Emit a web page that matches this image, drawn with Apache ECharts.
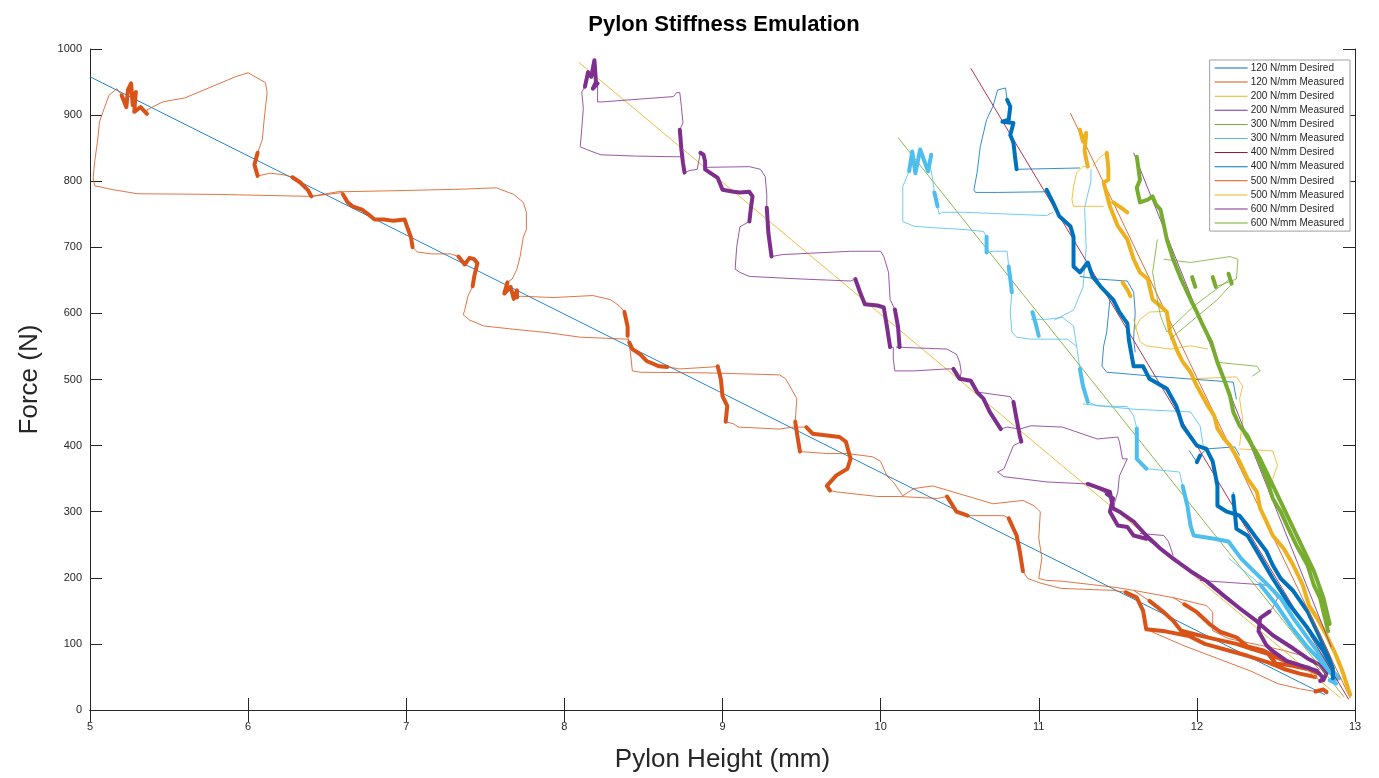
<!DOCTYPE html>
<html>
<head>
<meta charset="utf-8">
<title>Pylon Stiffness Emulation</title>
<script src="https://cdn.jsdelivr.net/npm/echarts@6/dist/echarts.min.js"></script>
<style>
  html, body { margin: 0; padding: 0; background: #fff; }
  #chart { width: 1379px; height: 778px; }
</style>
</head>
<body>
<div id="chart"></div>
<script>
// stiffness settings, in plotting order
const stiffness = ['120', '200', '300', '400', '500', '600']

// desired force lines [height mm, force N]
const desired120 = [[5.00, 958], [12.81, 23]]
const desired200 = [[8.09, 980], [12.91, 18]]
const desired300 = [[10.11, 866], [12.93, 20]]
const desired400 = [[10.57, 971], [12.96, 16]]
const desired500 = [[11.20, 903], [12.97, 18]]
const desired600 = [[11.60, 843], [12.85, 95]]

// measured traces [height mm, force N, dwell flag], null = gap in the trace
const measured120 = [
  [6.60, 783, 0], [6.40, 777, 0], [5.81, 780, 0], [5.30, 781, 0], [5.15, 787, 0], [5.03, 793, 0], [5.02, 805, 0],
  [5.03, 830, 0], [5.05, 865, 0], [5.06, 890, 0], [5.09, 910, 0], [5.12, 930, 0], [5.17, 940, 0],
  [5.20, 930, 1], [5.23, 912, 1], [5.24, 938, 1], [5.26, 948, 1], [5.27, 915, 1], [5.29, 935, 1], [5.28, 905, 1],
  [5.32, 912, 1], [5.36, 902, 1], [5.36, 908, 0], [5.46, 920, 0], [5.60, 926, 0], [5.92, 958, 0], [6.00, 964, 0],
  [6.11, 949, 0], [6.12, 934, 0], [6.10, 890, 0], [6.09, 863, 0], [6.06, 843, 1], [6.04, 825, 1], [6.06, 808, 1],
  [6.10, 810, 0], [6.14, 812, 0], [6.22, 810, 0], [6.28, 806, 1], [6.33, 798, 1], [6.38, 786, 1], [6.40, 777, 1],
  [6.59, 785, 0], [6.60, 780, 1], [6.63, 768, 1], [6.66, 762, 1], [6.72, 757, 1], [6.76, 750, 1], [6.80, 742, 1],
  [6.86, 742, 1], [6.92, 740, 1], [6.99, 742, 1], [7.01, 728, 1], [7.03, 715, 1], [7.04, 700, 1], [7.07, 693, 0],
  [7.16, 690, 0], [7.28, 690, 0], [7.33, 686, 1], [7.37, 674, 1], [7.40, 684, 1], [7.43, 682, 1], [7.45, 676, 1],
  [7.43, 656, 1], [7.42, 641, 1], [7.39, 626, 0], [7.37, 605, 0], [7.36, 598, 0], [7.40, 590, 0], [7.49, 581, 0],
  [7.68, 576, 0], [7.89, 571, 0], [8.10, 564, 0], [8.40, 561, 0], [8.41, 556, 1], [8.43, 546, 1], [8.48, 538, 1],
  [8.52, 528, 1], [8.60, 520, 1], [8.65, 519, 1], [8.73, 516, 0], [8.94, 519, 0], [8.97, 520, 1], [8.99, 500, 1],
  [9.00, 475, 1], [9.03, 460, 1], [9.02, 436, 1], [9.07, 433, 0], [9.10, 428, 0], [9.36, 425, 0], [9.45, 428, 0],
  [9.53, 428, 1], [9.57, 418, 1], [9.74, 413, 1], [9.78, 406, 1], [9.81, 380, 1], [9.79, 365, 1], [9.72, 355, 1],
  [9.66, 339, 1], [9.68, 332, 1], [9.72, 330, 0], [9.98, 323, 0], [10.12, 323, 0], [10.36, 320, 0], [10.42, 323, 1],
  [10.48, 300, 1], [10.55, 294, 1], [10.78, 294, 0], [10.81, 290, 1], [10.86, 264, 1], [10.88, 240, 1], [10.90, 210, 1],
  [10.93, 199, 0], [11.01, 192, 0], [11.14, 184, 0], [11.47, 181, 0], [11.55, 178, 1], [11.62, 170, 1], [11.66, 150, 1],
  [11.68, 122, 1], [11.80, 119, 1], [11.95, 112, 1], [12.05, 100, 1], [12.20, 90, 1], [12.32, 82, 1], [12.45, 72, 1],
  [12.55, 62, 1], [12.65, 55, 1], [12.75, 50, 1], [12.80, 40, 0],
  null,
  [6.59, 784, 0], [7.00, 786, 0], [7.36, 788, 0], [7.57, 790, 0], [7.68, 780, 0], [7.74, 768, 0], [7.76, 753, 0],
  [7.76, 727, 0], [7.74, 715, 0], [7.72, 686, 0], [7.70, 667, 0], [7.67, 652, 0], [7.64, 647, 1], [7.62, 630, 1],
  [7.66, 640, 1], [7.68, 622, 1], [7.70, 635, 1], [7.70, 624, 1], [7.72, 626, 0], [7.93, 624, 0], [8.18, 627, 0],
  [8.29, 621, 0], [8.35, 611, 0], [8.38, 602, 1], [8.40, 580, 1], [8.40, 566, 1], [8.41, 555, 0], [8.42, 535, 0],
  [8.43, 513, 0], [8.48, 511, 0], [8.90, 510, 0], [9.36, 507, 0], [9.40, 501, 0], [9.47, 471, 0], [9.46, 436, 1],
  [9.47, 420, 1], [9.48, 405, 1], [9.49, 391, 1], [9.66, 388, 0], [9.79, 388, 0], [9.95, 383, 0], [10.00, 376, 0],
  [10.04, 354, 0], [10.08, 345, 0], [10.14, 324, 0], [10.21, 335, 0], [10.33, 339, 0], [10.71, 312, 0], [10.90, 317, 0],
  [10.97, 309, 0], [11.01, 300, 0], [11.00, 260, 0], [11.02, 230, 0], [11.00, 199, 0], [11.05, 196, 0], [11.14, 195, 0],
  [11.47, 186, 0], [11.60, 181, 0], [11.85, 170, 0], [12.06, 158, 0], [12.10, 148, 0], [12.10, 120, 0], [12.20, 108, 0],
  [12.40, 98, 0], [12.55, 90, 0], [12.70, 80, 0], [12.78, 60, 0],
  null,
  [11.60, 181, 0], [11.70, 165, 1], [11.78, 150, 1], [11.85, 135, 1], [11.90, 120, 1], [11.98, 115, 1], [12.10, 108, 1],
  [12.25, 100, 1], [12.35, 92, 1], [12.45, 85, 1], [12.50, 70, 1], [12.58, 68, 1], [12.70, 62, 1], [12.76, 56, 1], [12.80, 50, 0],
  null,
  [11.85, 170, 0], [11.92, 160, 1], [12.00, 148, 1], [12.08, 130, 1], [12.15, 118, 1], [12.25, 110, 1], [12.32, 96, 1],
  [12.42, 90, 1], [12.50, 80, 1], [12.55, 75, 1], [12.62, 70, 1], [12.72, 66, 0],
  null,
  [11.68, 122, 0], [11.91, 98, 0], [12.13, 78, 0], [12.34, 59, 0], [12.51, 40, 0], [12.65, 32, 0], [12.75, 28, 1],
  [12.80, 31, 1], [12.82, 27, 1]
]

const measured200 = [
  [8.74, 837, 0], [8.71, 837, 0], [8.45, 838, 0], [8.23, 840, 0], [8.14, 848, 0],
  [8.10, 852, 0], [8.11, 880, 0], [8.12, 910, 0], [8.11, 935, 0], [8.13, 943, 1], [8.15, 965, 1], [8.17, 958, 1],
  [8.19, 983, 1], [8.20, 950, 1], [8.18, 940, 1], [8.21, 948, 1], [8.21, 920, 0], [8.24, 920, 0], [8.69, 928, 0],
  [8.71, 934, 0], [8.73, 934, 0], [8.74, 913, 0], [8.75, 888, 0], [8.73, 878, 1], [8.74, 848, 1], [8.75, 828, 1],
  [8.76, 813, 1], [8.79, 816, 0], [8.84, 818, 0], [8.86, 843, 1], [8.88, 840, 1], [8.89, 830, 1], [8.89, 818, 1],
  [8.92, 813, 1], [8.97, 805, 1], [9.00, 787, 1], [9.07, 784, 1], [9.11, 783, 1], [9.17, 784, 1], [9.19, 777, 1],
  [9.18, 760, 1], [9.17, 739, 1], [9.11, 731, 0], [9.09, 701, 0], [9.08, 667, 0], [9.11, 662, 0], [9.17, 656, 0],
  [9.50, 652, 0], [9.81, 649, 0], [9.84, 652, 1], [9.87, 632, 1], [9.90, 614, 1], [9.98, 612, 1], [10.02, 609, 1],
  [10.04, 580, 1], [10.06, 549, 1], [10.08, 549, 0], [10.08, 531, 0], [10.09, 513, 0], [10.21, 513, 0], [10.42, 516, 0],
  [10.46, 516, 1], [10.50, 501, 1], [10.57, 498, 1], [10.61, 481, 1], [10.65, 471, 1], [10.69, 451, 1], [10.76, 425, 1],
  [10.80, 428, 0], [10.88, 425, 0], [10.95, 430, 0], [11.15, 428, 0], [11.37, 410, 0], [11.50, 413, 0], [11.51, 406, 0],
  [11.53, 380, 0], [11.56, 380, 0], [11.51, 354, 0], [11.50, 330, 0], [11.47, 305, 0],
  null,
  [8.90, 821, 0], [9.17, 822, 0], [9.24, 818, 0], [9.27, 807, 0], [9.28, 780, 0], [9.28, 760, 1], [9.29, 722, 1],
  [9.31, 686, 1], [9.38, 689, 0], [9.81, 694, 0], [10.00, 694, 0], [10.02, 686, 0], [10.05, 662, 0], [10.06, 621, 0],
  [10.09, 606, 1], [10.11, 580, 1], [10.12, 549, 1], [10.10, 549, 0], [10.42, 546, 0], [10.48, 538, 0], [10.50, 526, 0],
  [10.51, 511, 0], [10.50, 501, 0],
  null,
  [10.61, 481, 0], [10.82, 474, 0], [10.84, 466, 1], [10.86, 440, 1], [10.88, 415, 1], [10.89, 406, 1], [10.84, 400, 0],
  [10.78, 365, 0], [10.74, 360, 0], [10.78, 353, 0], [11.05, 345, 0], [11.31, 342, 1], [11.45, 330, 1], [11.47, 305, 1],
  [11.51, 300, 1], [11.60, 285, 1], [11.68, 264, 1], [11.77, 244, 1], [11.85, 229, 1], [11.96, 210, 1], [12.06, 195, 1],
  [12.17, 173, 1], [12.27, 154, 1], [12.38, 134, 1], [12.48, 113, 1], [12.61, 93, 1], [12.70, 78, 1], [12.78, 68, 1],
  [12.82, 55, 1], [12.80, 45, 1],
  null,
  [11.32, 342, 0], [11.43, 327, 1], [11.47, 320, 1], [11.45, 300, 1], [11.50, 279, 1], [11.56, 277, 1], [11.60, 264, 1],
  [11.68, 259, 1], [11.85, 229, 0],
  null,
  [11.64, 267, 0], [11.79, 264, 0], [11.82, 255, 0], [11.85, 234, 0],
  null,
  [12.02, 196, 0], [12.44, 189, 0], [12.48, 180, 0], [12.51, 169, 0], [12.48, 155, 0], [12.46, 149, 1], [12.40, 139, 1],
  [12.39, 119, 1], [12.44, 98, 1], [12.48, 89, 1], [12.57, 74, 1], [12.65, 68, 1], [12.76, 59, 1], [12.80, 48, 1], [12.78, 44, 1]
]

const measured300 = [
  [10.32, 840, 1], [10.30, 815, 1], [10.25, 848, 1], [10.22, 812, 1], [10.20, 845, 1], [10.18, 815, 1], [10.17, 813, 0],
  [10.14, 792, 0], [10.14, 753, 0], [10.14, 739, 0], [10.21, 732, 0], [10.31, 730, 0], [10.52, 727, 0], [10.65, 724, 0],
  [10.67, 716, 1], [10.67, 692, 1], [10.71, 694, 0], [10.80, 694, 0], [10.81, 671, 1], [10.82, 652, 1], [10.83, 632, 1],
  [10.82, 602, 0], [10.83, 572, 0], [10.86, 564, 0], [10.95, 561, 0], [11.18, 561, 0], [11.24, 550, 0], [11.26, 516, 1],
  [11.28, 490, 1], [11.31, 466, 1], [11.37, 460, 0], [11.56, 459, 0], [11.60, 445, 0], [11.62, 426, 1], [11.62, 380, 1],
  [11.68, 365, 1], [11.81, 362, 0], [11.89, 360, 0], [11.91, 339, 1], [11.94, 309, 1], [11.96, 279, 1], [11.98, 264, 1],
  [12.11, 259, 1], [12.20, 255, 1], [12.28, 229, 1], [12.36, 210, 1], [12.45, 189, 1], [12.53, 169, 1], [12.61, 139, 1],
  [12.70, 109, 1], [12.78, 83, 1], [12.86, 59, 1], [12.90, 48, 1], [12.84, 45, 1], [12.88, 40, 1],
  null,
  [10.31, 828, 0], [10.33, 802, 0], [10.34, 783, 1], [10.36, 762, 1], [10.37, 750, 0], [10.39, 753, 0], [10.52, 753, 0],
  [11.05, 748, 0], [11.09, 753, 0],
  null,
  [10.96, 602, 1], [10.98, 585, 1], [11.00, 566, 1],
  null,
  [10.95, 591, 0], [11.05, 591, 0], [11.15, 594, 0], [11.22, 581, 0], [11.24, 550, 0],
  null,
  [11.10, 590, 0], [11.22, 605, 0], [11.28, 640, 0], [11.30, 700, 0], [11.29, 760, 0], [11.33, 800, 0], [11.33, 818, 0],
  null,
  [11.28, 463, 0], [11.60, 455, 0], [11.96, 451, 0], [12.02, 430, 0], [12.04, 400, 0],
  null,
  [12.20, 230, 0], [12.40, 190, 1], [12.50, 160, 1], [12.60, 125, 1], [12.70, 95, 1], [12.78, 75, 1], [12.85, 55, 1]
]

const measured400 = [
  [10.74, 938, 0], [10.79, 941, 0], [10.80, 923, 1], [10.82, 913, 1], [10.81, 893, 1], [10.77, 890, 1], [10.84, 888, 1],
  [10.82, 870, 1], [10.84, 858, 1], [10.85, 837, 1], [10.86, 818, 1], [11.26, 820, 0],
  null,
  [10.74, 938, 0], [10.71, 913, 0], [10.67, 893, 0], [10.63, 852, 0], [10.61, 813, 0], [10.59, 787, 0], [10.60, 783, 0],
  [10.74, 783, 0], [11.05, 784, 0], [11.05, 787, 1], [11.09, 768, 1], [11.13, 747, 1], [11.20, 732, 1], [11.22, 716, 1],
  [11.22, 690, 1], [11.22, 671, 1], [11.26, 662, 1], [11.31, 677, 1], [11.34, 656, 1], [11.39, 641, 1], [11.47, 621, 1],
  [11.51, 602, 1], [11.56, 585, 1], [11.57, 560, 1], [11.60, 520, 1], [11.66, 520, 1], [11.70, 501, 1], [11.81, 486, 1],
  [11.87, 460, 1], [11.91, 430, 1], [12.00, 400, 1], [12.06, 395, 1], [12.10, 376, 1], [12.13, 339, 1], [12.13, 309, 1],
  [12.19, 300, 1], [12.27, 294, 1], [12.32, 279, 1], [12.38, 259, 1], [12.44, 240, 1], [12.48, 219, 1], [12.53, 199, 1],
  [12.61, 180, 1], [12.70, 149, 1], [12.76, 119, 1], [12.83, 83, 1], [12.86, 63, 1], [12.86, 48, 1],
  null,
  [11.26, 656, 0], [11.37, 652, 0], [11.56, 649, 0], [11.60, 632, 0], [11.61, 602, 0], [11.60, 561, 0], [11.61, 541, 0],
  null,
  [11.45, 621, 0], [11.43, 572, 0], [11.41, 550, 0], [11.40, 520, 0], [11.43, 511, 0], [11.58, 508, 0], [11.72, 505, 0],
  [12.23, 496, 0], [12.25, 470, 0],
  null,
  [12.23, 330, 0], [12.23, 324, 1], [12.25, 274, 1], [12.32, 264, 1], [12.38, 240, 1], [12.48, 199, 1], [12.59, 158, 1],
  [12.70, 124, 1], [12.80, 89, 1], [12.86, 63, 1],
  null,
  [11.95, 393, 0], [12.00, 375, 1], [12.02, 385, 1], [12.06, 395, 0], [12.24, 398, 0], [12.27, 385, 0]
]

const measured500 = [
  [11.26, 878, 1], [11.28, 860, 1], [11.30, 873, 1], [11.29, 845, 1], [11.31, 822, 1], [11.28, 822, 0], [11.24, 813, 0],
  [11.22, 792, 0], [11.21, 772, 0], [11.22, 762, 0], [11.33, 762, 0], [11.41, 762, 0],
  null,
  [11.34, 822, 0], [11.39, 837, 0], [11.43, 843, 1], [11.44, 820, 1], [11.44, 802, 1], [11.41, 798, 1], [11.45, 762, 1],
  [11.50, 732, 1], [11.56, 712, 1], [11.60, 682, 1], [11.64, 662, 1], [11.69, 652, 1], [11.72, 621, 1], [11.77, 611, 1],
  [11.81, 602, 1], [11.83, 572, 1], [11.88, 541, 1], [11.91, 527, 1], [11.96, 511, 1], [12.00, 490, 1], [12.07, 460, 1],
  [12.11, 445, 1], [12.13, 426, 1], [12.17, 411, 1], [12.21, 400, 1], [12.27, 376, 1], [12.32, 350, 1], [12.38, 330, 1],
  [12.40, 305, 1], [12.44, 285, 1], [12.48, 264, 1], [12.55, 244, 1], [12.61, 219, 1], [12.67, 189, 1], [12.71, 158, 1],
  [12.76, 139, 1], [12.82, 113, 1], [12.88, 83, 1], [12.92, 59, 1], [12.97, 23, 1],
  null,
  [11.47, 768, 1], [11.52, 760, 1], [11.56, 753, 1],
  null,
  [11.53, 647, 1], [11.56, 636, 1], [11.58, 626, 1],
  null,
  [11.60, 572, 0], [11.64, 591, 0], [11.70, 602, 0], [11.79, 603, 0],
  null,
  [11.60, 591, 0], [11.64, 557, 0], [11.68, 551, 0], [11.83, 546, 0], [11.96, 551, 0], [12.07, 546, 0],
  null,
  [11.96, 501, 0], [12.25, 504, 0], [12.29, 490, 0], [12.27, 471, 0], [12.29, 440, 0], [12.27, 400, 0],
  null,
  [12.27, 395, 0], [12.48, 392, 0], [12.51, 370, 0], [12.48, 350, 0], [12.44, 345, 0]
]

const measured600 = [
  [11.62, 837, 1], [11.63, 820, 1], [11.64, 802, 1], [11.62, 790, 1], [11.64, 768, 1], [11.69, 772, 1], [11.72, 777, 1],
  [11.74, 765, 1], [11.77, 757, 1], [11.79, 735, 1], [11.81, 712, 1], [11.85, 682, 1], [11.90, 652, 1], [11.96, 621, 1],
  [12.00, 602, 1], [12.04, 581, 1], [12.09, 557, 1], [12.13, 526, 1], [12.17, 501, 1], [12.21, 475, 1], [12.23, 451, 1],
  [12.27, 430, 1], [12.32, 415, 1], [12.38, 385, 1], [12.44, 350, 1], [12.48, 320, 1], [12.53, 300, 1], [12.57, 279, 1],
  [12.63, 249, 1], [12.70, 219, 1], [12.74, 189, 1], [12.78, 169, 1], [12.80, 149, 1], [12.83, 119, 1],
  null,
  [12.30, 420, 1], [12.40, 380, 1], [12.50, 330, 1], [12.58, 290, 1], [12.66, 250, 1], [12.74, 210, 1], [12.80, 170, 1],
  [12.84, 130, 1],
  null,
  [11.79, 682, 0], [11.96, 677, 0], [12.21, 686, 0], [12.26, 682, 0], [12.25, 652, 0], [12.13, 641, 0],
  null,
  [11.75, 712, 0], [11.72, 662, 0], [11.75, 621, 0], [11.77, 596, 0], [11.81, 572, 0], [11.98, 611, 0], [12.21, 652, 0],
  null,
  [11.83, 561, 0], [12.13, 621, 0], [12.23, 647, 0],
  null,
  [12.13, 526, 0], [12.38, 520, 0], [12.40, 513, 0], [12.35, 505, 0],
  null,
  [11.97, 655, 1], [11.99, 640, 1],
  null,
  [12.10, 655, 1], [12.12, 640, 1],
  null,
  [12.20, 660, 1], [12.22, 645, 1]
]

const desired = [desired120, desired200, desired300, desired400, desired500, desired600]
const measured = [measured120, measured200, measured300, measured400, measured500, measured600]

// MATLAB default colour order, one per plotted line
const lineColors = ['#0072BD', '#D95319', '#EDB120', '#7E2F8E', '#77AC30', '#4DBEEE',
  '#A2142F', '#0072BD', '#D95319', '#EDB120', '#7E2F8E', '#77AC30']

const thinPart = pts => pts.map(p => (p ? [p[0], p[1]] : ['-', '-']))
const dwellPart = pts => pts.map(p => (p && p[2] ? [p[0], p[1]] : ['-', '-']))

const names = []
const series = []
stiffness.forEach((k, i) => {
  const dName = k + ' N/mm Desired'
  const mName = k + ' N/mm Measured'
  const dColor = lineColors[i * 2]
  const mColor = lineColors[i * 2 + 1]
  names.push(dName, mName)
  series.push({
    name: dName,
    type: 'line',
    data: desired[i],
    symbol: 'none',
    lineStyle: { width: 1, color: dColor, opacity: 0.85 },
    itemStyle: { color: dColor }
  })
  series.push({
    name: mName,
    type: 'line',
    data: thinPart(measured[i]),
    symbol: 'none',
    lineStyle: { width: 1, color: mColor, opacity: 0.8 },
    itemStyle: { color: mColor }
  })
  series.push({
    name: mName,
    type: 'line',
    data: dwellPart(measured[i]),
    symbol: 'none',
    lineStyle: { width: 4, color: mColor, join: 'round', cap: 'round' },
    itemStyle: { color: mColor }
  })
})

const axisColor = '#262626'
const chart = echarts.init(document.getElementById('chart'))
chart.setOption({
  animation: false,
  backgroundColor: '#fff',
  textStyle: { fontFamily: 'Liberation Sans, Arial, sans-serif' },
  title: {
    text: 'Pylon Stiffness Emulation',
    left: 719,
    top: 9,
    textAlign: 'center',
    textStyle: { fontSize: 22, fontWeight: 'bold', color: '#000' }
  },
  legend: {
    data: names,
    orient: 'vertical',
    right: 29,
    top: 60,
    icon: 'path://M0,4.6h33v1h-33z',
    itemWidth: 33,
    itemHeight: 10,
    itemGap: 4.1,
    padding: [3, 6, 3, 5],
    backgroundColor: '#fff',
    borderColor: '#a0a0a0',
    borderWidth: 1,
    borderRadius: 0,
    textStyle: { fontSize: 10, color: axisColor, padding: [0, 0, 0, -2] }
  },
  grid: { left: 90, right: 24, top: 49, bottom: 66 },
  xAxis: [{
    type: 'value',
    min: 5,
    max: 13,
    interval: 1,
    name: 'Pylon Height (mm)',
    nameLocation: 'middle',
    nameGap: 37,
    nameTextStyle: { fontSize: 26, color: axisColor },
    axisLine: { lineStyle: { color: axisColor, width: 1 } },
    axisTick: { inside: true, length: 12, lineStyle: { color: axisColor } },
    axisLabel: { fontSize: 11, color: axisColor, margin: 11 },
    splitLine: { show: false }
  }, {
    type: 'value',
    position: 'top',
    min: 5,
    max: 13,
    interval: 1,
    axisLine: { show: true, lineStyle: { color: axisColor, width: 1 } },
    axisTick: { show: true, inside: true, length: 12, lineStyle: { color: axisColor } },
    axisLabel: { show: false },
    splitLine: { show: false }
  }],
  yAxis: [{
    type: 'value',
    min: 0,
    max: 1000,
    interval: 100,
    name: 'Force (N)',
    nameLocation: 'middle',
    nameGap: 47,
    nameTextStyle: { fontSize: 26, color: axisColor },
    axisLine: { show: true, lineStyle: { color: axisColor, width: 1 } },
    axisTick: { show: true, inside: true, length: 12, lineStyle: { color: axisColor } },
    axisLabel: { fontSize: 11, color: axisColor, margin: 8, formatter: v => String(v) },
    splitLine: { show: false }
  }, {
    type: 'value',
    position: 'right',
    min: 0,
    max: 1000,
    interval: 100,
    axisLine: { show: true, lineStyle: { color: axisColor, width: 1 } },
    axisTick: { show: true, inside: true, length: 12, lineStyle: { color: axisColor } },
    axisLabel: { show: false },
    splitLine: { show: false }
  }],
  series: series
})
</script>
</body>
</html>
